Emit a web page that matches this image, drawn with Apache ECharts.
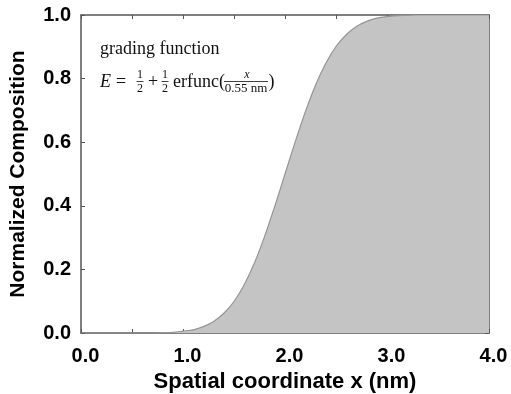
<!DOCTYPE html>
<html><head><meta charset="utf-8">
<script src="https://cdn.jsdelivr.net/npm/echarts@6/dist/echarts.min.js"></script>
<style>html,body{margin:0;padding:0;background:#fff}#c{width:511px;height:394px}</style>
</head><body><div id="c"></div>
<script>
var xValues = [0.0,0.1,0.2,0.3,0.4,0.5,0.6,0.7,0.8,0.9,1.0,1.1,1.2,1.3,1.4,1.5,1.6,1.7,1.8,1.9,2.0,2.1,2.2,2.3,2.4,2.5,2.6,2.7,2.8,2.9,3.0,3.1,3.2,3.3,3.4,3.5,3.6,3.7,3.8,3.9,4.0];
var composition = [0,0,0,0,0,0,0,0,0.001,0.002,0.006,0.010,0.020,0.036,0.062,0.099,0.152,0.220,0.304,0.399,0.500,0.601,0.696,0.780,0.848,0.901,0.938,0.964,0.980,0.990,0.995,0.998,0.999,1,1,1,1,1,1,1,1];
var xTickLabels = ['0.0','1.0','2.0','3.0','4.0'];
var yTickLabels = ['0.0','0.2','0.4','0.6','0.8','1.0'];
var xTitle = 'Spatial coordinate x (nm)';
var yTitle = 'Normalized Composition';

var pairs = xValues.map(function(x,i){return [x, composition[i]];});
var frame = '#555';
var sans = 'Liberation Sans, Arial, sans-serif';
var serif = 'Liberation Serif, Times New Roman, serif';

function xAxisCfg(pos, show){
  return {type:'value', position:pos, min:0, max:4, interval:0.5,
    axisLine:{show:true, onZero:false, lineStyle:{color:frame, width:1.5}},
    axisTick:{show:true, inside:true, length:4, lineStyle:{color:frame, width:1}},
    splitLine:{show:false},
    axisLabel:{show:show, margin:13, padding:[0,0,0,9], color:'#000', fontFamily:sans, fontWeight:'bold', fontSize:20,
      formatter:function(v){var i=Math.round(v); return Math.abs(v-i)<1e-6 ? xTickLabels[i] : '';}},
    name: show ? xTitle : '', nameLocation:'middle', nameGap:34,
    nameTextStyle:{color:'#000', fontFamily:sans, fontWeight:'bold', fontSize:22}
  };
}
function yAxisCfg(pos, show){
  return {type:'value', position:pos, min:0, max:1, interval:0.2,
    axisLine:{show:true, onZero:false, lineStyle:{color:frame, width:1.5}},
    axisTick:{show:true, inside:true, length:4, lineStyle:{color:frame, width:1}},
    splitLine:{show:false},
    axisLabel:{show:show, margin:10, color:'#000', fontFamily:sans, fontWeight:'bold', fontSize:20,
      formatter:function(v){return yTickLabels[Math.round(v*5)];}},
    name: show ? yTitle : '', nameLocation:'middle', nameGap:52,
    nameTextStyle:{color:'#000', fontFamily:sans, fontWeight:'bold', fontSize:21}
  };
}

function txt(x,y,s,size,italic,align){
  return {type:'text', x:x, y:y, z:10, style:{text:s, fill:'#111', font:(italic?'italic ':'')+size+'px '+serif, textAlign:align||'left', textVerticalAlign:'middle'}};
}
function bar(x1,x2,y){
  return {type:'line', z:10, shape:{x1:x1,y1:y,x2:x2,y2:y}, style:{stroke:'#111', lineWidth:0.8}};
}

var chart = echarts.init(document.getElementById('c'), null, {renderer:'canvas'});
chart.setOption({
  animation:false,
  grid:{left:81, right:22, top:15, bottom:61, containLabel:false, outerBoundsMode:'none'},
  xAxis:[xAxisCfg('bottom', true), xAxisCfg('top', false)],
  yAxis:[yAxisCfg('left', true), yAxisCfg('right', false)],
  series:[{type:'line', xAxisIndex:0, yAxisIndex:0, data:pairs, smooth:0.3, symbol:'none',
    lineStyle:{color:'#959595', width:1.2}, areaStyle:{color:'#c4c4c4', opacity:1}}],
  graphic:[
    txt(100,49,'grading function',18,false),
    txt(100,82,'E',18,true),
    txt(116,82,'=',18,false),
    txt(140,75,'1',12,false,'center'),
    bar(136.5,143.5,81.5),
    txt(140,88.5,'2',12,false,'center'),
    txt(148,82,'+',18,false),
    txt(165,75,'1',12,false,'center'),
    bar(161.5,168.5,81.5),
    txt(165,88.5,'2',12,false,'center'),
    txt(173,82,'erfunc(',18,false),
    txt(247,75,'x',12,true,'center'),
    bar(224,268,81.5),
    txt(246,89,'0.55 nm',13,false,'center'),
    txt(268.5,82,')',18,false)
  ]
});
</script></body></html>
